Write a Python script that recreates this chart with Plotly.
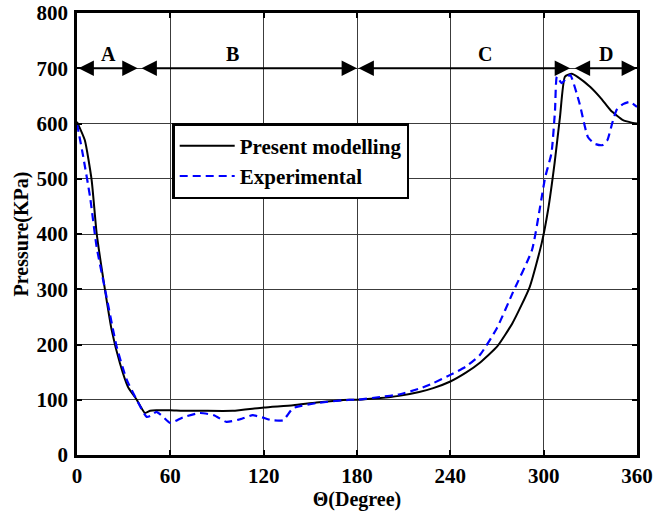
import plotly.graph_objects as go

# Present modelling (solid black)
theta_model = [0, 5, 9.4, 12.6, 17, 22.3, 27.6, 32.8, 38.4, 43.7, 47, 51, 60, 68, 80, 100, 120, 139, 154, 175,
               180, 195, 207, 220, 229, 240, 250, 259, 270, 280, 291, 298.7, 302.8, 307, 310.5, 313.7, 318,
               322, 330, 337, 343, 351, 356, 360]
p_model = [603, 570, 498, 402, 317, 226, 166, 123, 100, 76, 80, 81, 81, 80, 80, 80, 86, 90, 95, 100,
           100, 103, 107, 114, 121, 133, 149, 167, 196, 239, 304, 383, 443, 528, 612, 685, 690,
           684, 666, 645, 624, 606, 602, 600]

# Experimental (dashed blue)
theta_exp = [0, 4, 8.4, 12.6, 19, 25.5, 32, 38.4, 44.8, 48, 51, 55, 60, 68, 79, 88, 96, 104, 113, 119, 125,
             132.5, 139, 154, 175.5, 180, 195, 207.6, 220, 229, 240, 250, 259, 270, 280, 292.5, 297.7, 301,
             305, 307.3, 308.5, 311.5, 314, 317, 323, 328.5, 333, 338, 341, 344, 347, 351, 355.5, 360]
p_exp = [600, 540, 467, 377, 286, 196, 136, 100, 69, 72, 78, 70, 58, 68, 76, 72, 60, 64, 72, 68, 63,
         63, 85, 94, 100, 100, 105, 110, 120, 130, 145, 160, 181, 230, 293, 371, 449, 503,
         546, 624, 685, 673, 680, 688, 637, 575, 563, 561, 570, 600, 625, 635, 639, 630]

# Region markers: (start, end, label, label_x)
region_start = [0, 40.5, 180, 319]
region_end = [39, 180, 317, 360]
region_label = ["A", "B", "C", "D"]
region_label_x = [20, 100, 262, 340]
region_level = 700

x_ticks = [0, 60, 120, 180, 240, 300, 360]
y_ticks = [0, 100, 200, 300, 400, 500, 600, 700, 800]

serif = "Liberation Serif"

fig = go.Figure()
fig.add_trace(go.Scatter(x=theta_model, y=p_model, mode="lines", name="Present modelling",
                         line=dict(color="black", width=2, shape="spline", smoothing=0.5)))
fig.add_trace(go.Scatter(x=theta_exp, y=p_exp, mode="lines", name="Experimental",
                         line=dict(color="blue", width=2.2, dash="8px,5px", shape="spline", smoothing=0.5)))

for s, e, lab, lx in zip(region_start, region_end, region_label, region_label_x):
    fig.add_annotation(x=e, y=region_level, ax=s, ay=region_level, xref="x", yref="y",
                       axref="x", ayref="y", text="", showarrow=True,
                       arrowhead=2, startarrowhead=2, arrowside="end+start",
                       arrowsize=1.4, startarrowsize=1.4, arrowwidth=2.2, arrowcolor="black",
                       standoff=0, startstandoff=0)
    fig.add_annotation(x=lx, y=region_level, text=lab, showarrow=False, yshift=14,
                       font=dict(family=serif, size=20, color="black", weight="bold"))

axis_common = dict(showline=True, linecolor="black", linewidth=2.5, mirror="ticks",
                   showgrid=True, gridcolor="rgb(60,60,60)", gridwidth=1,
                   ticks="inside", ticklen=5, tickcolor="black", tickwidth=1.5,
                   zeroline=False, automargin=False,
                   tickfont=dict(family=serif, size=21, color="black", weight="bold"))

fig.update_xaxes(range=[0, 360], tickvals=x_ticks, **axis_common, ticklabelstandoff=0,
                 title=dict(text="Θ(Degree)", standoff=0,
                            font=dict(family=serif, size=20, color="black", weight="bold")))
fig.update_yaxes(range=[0, 800], tickvals=y_ticks, **axis_common, ticklabelstandoff=2,
                 title=dict(text="Pressure(KPa)", standoff=3,
                            font=dict(family=serif, size=20, color="black", weight="bold")))

fig.update_layout(
    width=656, height=513,
    margin=dict(l=77, r=19, t=13, b=58, autoexpand=False),
    plot_bgcolor="white", paper_bgcolor="white",
    legend=dict(x=0.17, y=0.751, xanchor="left", yanchor="top",
                bgcolor="white", bordercolor="black", borderwidth=2.5,
                font=dict(family=serif, size=21, color="black", weight="bold"),
                tracegroupgap=0, itemwidth=55),
)

fig.write_html("out.html")
